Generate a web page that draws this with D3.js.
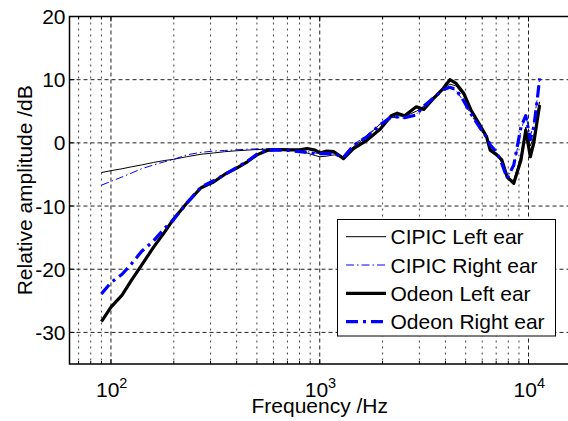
<!DOCTYPE html>
<html>
<head>
<meta charset="utf-8">
<script src="https://cdn.jsdelivr.net/npm/d3@7"></script>
<style>
  html, body { margin: 0; padding: 0; background: #fff; }
  svg { display: block; font-family: "Liberation Sans", Arial, sans-serif; }
</style>
</head>
<body>
<svg id="chart" width="568" height="421"></svg>
<script>
// ---- data ----
const freqs = [90,100,113,125,140,160,180,200,230,270,310,350,400,450,500,560,630,710,800,870,950,1000,1080,1170,1300,1450,1680,1950,2200,2350,2550,2900,3150,3500,3900,4200,4500,4900,5300,5850,6300,6550,7050,7450,7900,8500,9200,9700,10200,10600,11000,11300];
const cipicLeft  = [-4.7,-4.4,-4.1,-3.8,-3.5,-3.1,-2.8,-2.6,-2.2,-1.8,-1.6,-1.4,-1.25,-1.15,-1.05,-1.0,-1.0,-1.1,-1.3,-1.6,-2.0,-2.2,-2.1,-1.9,-2.2,-0.6,1.0,3.0,4.0,4.3,4.2,5.0,5.8,7.0,8.5,9.3,9.0,7.5,5.0,2.6,0.8,-0.8,-1.8,-2.8,-5.6,-6.0,-2.0,2.5,-0.5,1.0,4.0,6.5];
const cipicRight = [-6.7,-6.1,-5.4,-4.8,-4.1,-3.5,-3.0,-2.6,-1.9,-1.5,-1.3,-1.2,-1.1,-1.0,-0.95,-0.9,-0.9,-1.0,-1.2,-1.4,-1.6,-1.7,-1.6,-1.6,-2.0,-0.3,1.2,3.0,4.0,4.0,3.9,4.5,5.8,7.2,8.4,8.8,8.3,6.5,4.5,2.3,0.8,-0.4,-1.6,-3.2,-5.5,-3.8,2.0,4.4,1.0,3.0,7.0,10.3];
const odeonLeft  = [-28.3,-26.0,-24.1,-21.8,-19.4,-16.5,-14.2,-12.0,-9.6,-7.1,-6.2,-5.0,-4.0,-3.0,-1.9,-1.2,-1.05,-1.1,-1.1,-0.9,-1.15,-1.6,-1.3,-1.4,-2.5,-0.9,0.4,2.2,4.3,4.7,4.3,5.7,5.3,7.0,8.6,10.0,9.4,7.8,5.2,2.8,0.95,-1.15,-1.9,-2.7,-5.4,-6.4,-2.7,2.0,-2.2,0.0,3.5,6.0];
const odeonRight = [-23.9,-22.1,-20.8,-19.2,-17.2,-15.5,-13.6,-12.1,-9.6,-7.0,-6.0,-5.0,-3.9,-2.9,-1.8,-1.15,-1.1,-1.2,-1.4,-1.5,-1.7,-1.7,-1.7,-1.7,-2.3,-0.4,0.95,2.9,4.1,4.1,4.0,4.4,5.8,7.1,8.4,8.8,8.4,6.6,4.6,2.4,0.9,-0.3,-1.5,-3.3,-5.6,-3.5,2.5,4.3,0.5,2.5,6.7,10.2];

const seriesNames = ["CIPIC Left ear", "CIPIC Right ear", "Odeon Left ear", "Odeon Right ear"];
const yTicks = [-30, -20, -10, 0, 10, 20];
const xMajorTicks = [100, 1000, 10000];
const xMinorTicks = [70,80,90,200,300,400,500,600,700,800,900,2000,3000,4000,5000,6000,7000,8000,9000];
const xTickExponents = ["2", "3", "4"];

// ---- layout ----
const svg = d3.select("#chart");
const L = 69.5, R = 570, T = 16.5, B = 364;
const x = d3.scaleLog().domain([63.3, 15800]).range([L, R]);
const y = d3.scaleLinear().domain([-35, 20]).range([B, T]);

svg.append("rect").attr("width", 568).attr("height", 421).attr("fill", "#fff");

const defs = svg.append("defs");
defs.append("clipPath").attr("id", "clip")
  .append("rect").attr("x", L).attr("y", T).attr("width", R - L).attr("height", B - T);

// grid
const grid = svg.append("g");
grid.selectAll("line.minor").data(xMinorTicks).join("line")
  .attr("x1", d => x(d)).attr("x2", d => x(d)).attr("y1", T).attr("y2", B)
  .attr("stroke", "#444").attr("stroke-width", 1).attr("stroke-dasharray", "2,4");
grid.selectAll("line.major").data(xMajorTicks).join("line")
  .attr("x1", d => x(d)).attr("x2", d => x(d)).attr("y1", T).attr("y2", B)
  .attr("stroke", "#222").attr("stroke-width", 1).attr("stroke-dasharray", "4,3");
grid.selectAll("line.y").data(yTicks).join("line")
  .attr("x1", L).attr("x2", R).attr("y1", d => y(d)).attr("y2", d => y(d))
  .attr("stroke", "#222").attr("stroke-width", 1).attr("stroke-dasharray", "4,3");

// axes frame
svg.append("path")
  .attr("d", `M${R},${T}H${L}V${B}H${R}`)
  .attr("fill", "none").attr("stroke", "#000").attr("stroke-width", 1.5);

// inward ticks
const tk = svg.append("g").attr("stroke", "#000").attr("stroke-width", 1);
xMajorTicks.forEach(d => {
  tk.append("line").attr("x1", x(d)).attr("x2", x(d)).attr("y1", B).attr("y2", B - 5);
  tk.append("line").attr("x1", x(d)).attr("x2", x(d)).attr("y1", T).attr("y2", T + 5);
});
xMinorTicks.forEach(d => {
  tk.append("line").attr("x1", x(d)).attr("x2", x(d)).attr("y1", B).attr("y2", B - 3);
  tk.append("line").attr("x1", x(d)).attr("x2", x(d)).attr("y1", T).attr("y2", T + 3);
});
yTicks.forEach(d => {
  tk.append("line").attr("x1", L).attr("x2", L + 5).attr("y1", y(d)).attr("y2", y(d));
});

// y tick labels
svg.append("g").selectAll("text").data(yTicks).join("text")
  .attr("x", L - 4).attr("y", d => y(d) + 7.5)
  .attr("text-anchor", "end").attr("font-size", 21).attr("fill", "#000")
  .text(d => d);

// x tick labels (10^n) as one text with a superscript tspan
xMajorTicks.forEach((d, i) => {
  const t = svg.append("text")
    .attr("x", x(d) - 15).attr("y", 396.7)
    .attr("font-size", 21).attr("fill", "#000");
  t.append("tspan").text("10");
  t.append("tspan").attr("font-size", 14.5).attr("dy", -8.5).text(xTickExponents[i]);
});

// axis labels
svg.append("text").attr("x", (L + R) / 2).attr("y", 412.5)
  .attr("text-anchor", "middle").attr("font-size", 21).attr("fill", "#000")
  .text("Frequency /Hz");
svg.append("text")
  .attr("transform", `translate(31.5,${(T + B) / 2}) rotate(-90)`)
  .attr("text-anchor", "middle").attr("font-size", 21).attr("fill", "#000")
  .text("Relative amplitude /dB");

// series
const styles = [
  { color: "#000", width: 1, dash: null },
  { color: "#0000ff", width: 1, dash: "8,3,1.5,3" },
  { color: "#000", width: 3.2, dash: null },
  { color: "#0000ff", width: 3.2, dash: "12,5,3,5" }
];
const allSeries = [cipicLeft, cipicRight, odeonLeft, odeonRight];
const line = d3.line().x((d, i) => x(freqs[i])).y(d => y(d));

const plot = svg.append("g").attr("clip-path", "url(#clip)");
allSeries.forEach((vals, k) => {
  plot.append("path").datum(vals)
    .attr("d", line)
    .attr("fill", "none")
    .attr("stroke", styles[k].color)
    .attr("stroke-width", styles[k].width)
    .attr("stroke-linejoin", "round")
    .attr("stroke-dasharray", styles[k].dash);
});

// legend
const lg = svg.append("g");
lg.append("rect").attr("x", 337.5).attr("y", 219.5).attr("width", 218).attr("height", 116.5)
  .attr("fill", "#fff").attr("stroke", "#000").attr("stroke-width", 1);
seriesNames.forEach((name, k) => {
  const cy = 236.7 + k * 28.3;
  lg.append("line").attr("x1", 346).attr("x2", 386).attr("y1", cy).attr("y2", cy)
    .attr("stroke", styles[k].color).attr("stroke-width", styles[k].width)
    .attr("stroke-dasharray", styles[k].dash);
  lg.append("text").attr("x", 390.5).attr("y", cy + 7.5)
    .attr("font-size", 21).attr("fill", "#000").text(name);
});
</script>
</body>
</html>
